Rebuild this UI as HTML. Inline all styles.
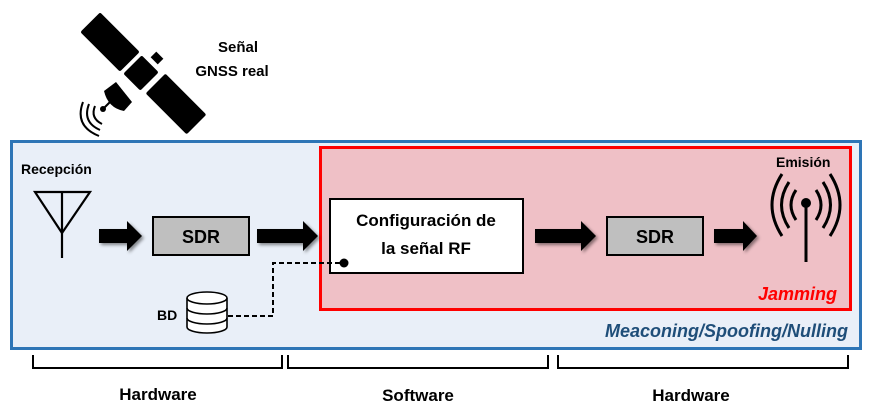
<!DOCTYPE html>
<html><head><meta charset="utf-8"><style>
html,body{margin:0;padding:0;background:#fff;}
svg{display:block;font-family:"Liberation Sans",sans-serif;}
</style></head><body>
<svg width="871" height="412" viewBox="0 0 871 412">
<defs>
<filter id="sh" x="-20%" y="-20%" width="150%" height="160%"><feDropShadow dx="2" dy="2" stdDeviation="1.5" flood-opacity="0.45"/></filter>
</defs>
<!-- satellite -->
<g fill="#000">
 <rect x="-28" y="-14" width="56" height="28" rx="2" transform="translate(110,42) rotate(45)"/>
 <rect x="-12" y="-13" width="24" height="26" rx="2" transform="translate(141,73) rotate(45)"/>
 <rect x="-29" y="-14" width="58" height="28" rx="2" transform="translate(176,104) rotate(45)"/>
 <rect x="-5" y="-4" width="10" height="8" transform="translate(157,58) rotate(45)"/>
 <path d="M104,91 L116,82 L132,102 L124,111 Q108,108 104,91Z"/>
 <line x1="112" y1="100" x2="104" y2="108" stroke="#000" stroke-width="2"/>
 <circle cx="103" cy="109" r="3"/>
</g>
<g fill="none" stroke="#000" stroke-width="2">
 <path d="M95,106 Q90,118 102,124"/>
 <path d="M89,104 Q82,122 100,130"/>
 <path d="M83,102 Q74,126 99,136"/>
</g>
<text x="238" y="52" font-size="15" font-weight="bold" text-anchor="middle">Señal</text>
<text x="232" y="76" font-size="15" font-weight="bold" text-anchor="middle">GNSS real</text>
<!-- blue box -->
<rect x="11.5" y="141.5" width="849" height="207" fill="#e9eff8" stroke="#2e75b6" stroke-width="3"/>
<!-- red box -->
<rect x="320.5" y="147.5" width="530" height="162" fill="#efc0c6" stroke="#ff0000" stroke-width="3"/>
<text x="21" y="174" font-size="14" font-weight="bold">Recepción</text>
<!-- antenna -->
<g stroke="#000" stroke-width="2.2" fill="none">
 <path d="M35,192 L90,192 L62,233 Z"/>
 <line x1="62" y1="192" x2="62" y2="258"/>
</g>
<!-- arrows -->
<g fill="#000" filter="url(#sh)">
 <path d="M99,229 h28 v-8 l15,15 l-15,15 v-8 h-28z"/>
 <path d="M257,229 h46 v-8 l15,15 l-15,15 v-8 h-46z"/>
 <path d="M535,229 h46 v-8 l15,15 l-15,15 v-8 h-46z"/>
 <path d="M714,229 h29 v-8 l14,15 l-14,15 v-8 h-29z"/>
</g>
<rect x="153" y="217" width="96" height="38" fill="#bfbfbf" stroke="#000" stroke-width="2"/>
<text x="201" y="243" font-size="18" font-weight="bold" text-anchor="middle">SDR</text>
<rect x="607" y="217" width="96" height="38" fill="#bfbfbf" stroke="#000" stroke-width="2"/>
<text x="655" y="243" font-size="18" font-weight="bold" text-anchor="middle">SDR</text>
<rect x="330" y="199" width="193" height="74" fill="#fff" stroke="#000" stroke-width="2"/>
<text x="426" y="226" font-size="17" font-weight="bold" text-anchor="middle">Configuración de</text>
<text x="426" y="254" font-size="17" font-weight="bold" text-anchor="middle">la señal RF</text>
<!-- dashed -->
<path d="M228,316 H273 V263 H343" fill="none" stroke="#000" stroke-width="2" stroke-dasharray="5,3"/>
<circle cx="344" cy="263" r="4.5"/>
<!-- database -->
<g fill="#fff" stroke="#000" stroke-width="1.6">
 <path d="M187,298 V327 A20,6 0 0 0 227,327 V298"/>
 <ellipse cx="207" cy="298" rx="20" ry="6"/>
 <path d="M187,308 A20,6 0 0 0 227,308" fill="none"/>
 <path d="M187,318 A20,6 0 0 0 227,318" fill="none"/>
</g>
<text x="157" y="320" font-size="14" font-weight="bold">BD</text>
<!-- emission -->
<text x="776" y="167" font-size="14" font-weight="bold">Emisión</text>
<g stroke="#000" stroke-width="3" fill="none">
 <line x1="806" y1="204" x2="806" y2="262"/>
 <path d="M796,190 Q786,205 796,220"/>
 <path d="M816,190 Q826,205 816,220"/>
 <path d="M789,182 Q774,205 789,228"/>
 <path d="M823,182 Q838,205 823,228"/>
 <path d="M782,174 Q762,205 782,236"/>
 <path d="M830,174 Q850,205 830,236"/>
</g>
<circle cx="806" cy="203" r="5"/>
<text x="837" y="300" font-size="18" font-weight="bold" font-style="italic" fill="#ff0000" text-anchor="end">Jamming</text>
<text x="848" y="337" font-size="18" font-weight="bold" font-style="italic" fill="#1f4e79" text-anchor="end">Meaconing/Spoofing/Nulling</text>
<!-- brackets -->
<g stroke="#000" stroke-width="2" fill="none">
 <path d="M33,355 V368 H282 V355"/>
 <path d="M288,355 V368 H548 V355"/>
 <path d="M558,355 V368 H848 V355"/>
</g>
<text x="158" y="400" font-size="17" font-weight="bold" text-anchor="middle">Hardware</text>
<text x="418" y="401" font-size="17" font-weight="bold" text-anchor="middle">Software</text>
<text x="691" y="401" font-size="17" font-weight="bold" text-anchor="middle">Hardware</text>
</svg>
</body></html>
